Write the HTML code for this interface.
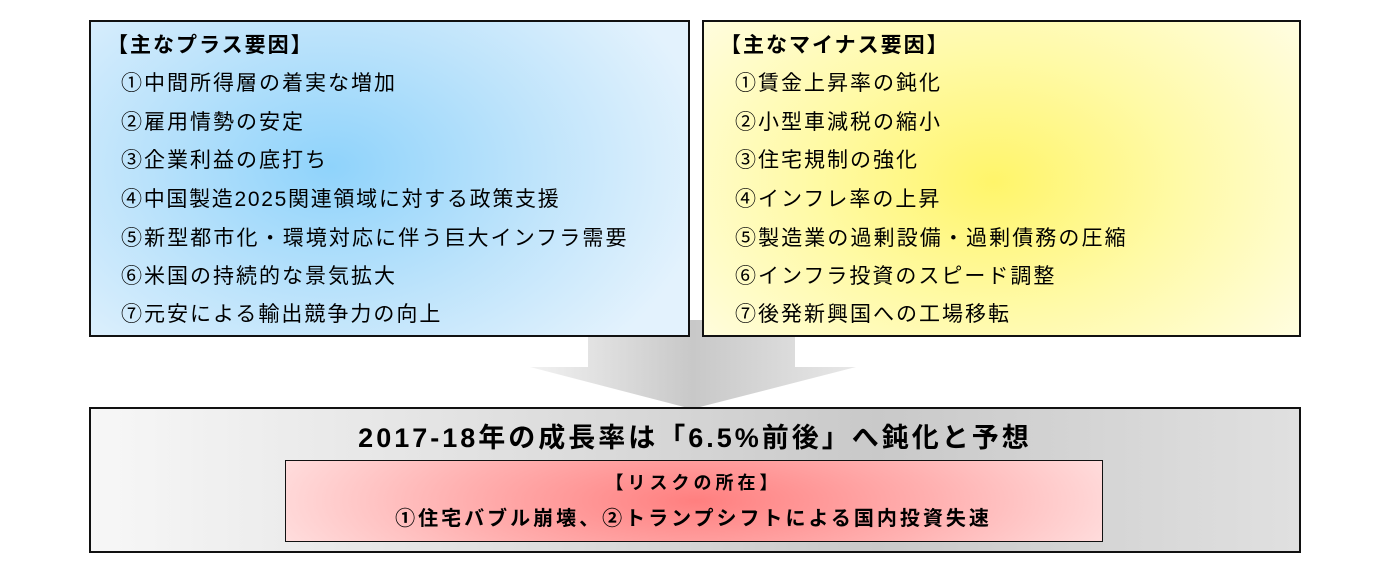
<!DOCTYPE html>
<html><head><meta charset="utf-8"><style>
body{margin:0;width:1399px;height:581px;background:#fff;position:relative;overflow:hidden;font-family:"Liberation Sans","Noto Sans CJK JP",sans-serif;color:#000}
.box{position:absolute;box-sizing:border-box;border:2px solid #111}
.l{left:89px;top:20px;width:601px;height:317px;background:radial-gradient(ellipse 380px 260px at 240px 145px,#8fd3fb 0%,#bfe4fb 55%,#e3f2fd 100%)}
.r{left:702px;top:20px;width:599px;height:317px;background:radial-gradient(ellipse 380px 260px at 290px 160px,#fff56a 0%,#fffaa8 50%,#fffde0 100%)}
.t{position:absolute;font-size:21px;letter-spacing:2px;white-space:nowrap;line-height:24px}
.bot{left:89px;top:407px;width:1212px;height:146px;background:linear-gradient(90deg,#f7f7f7 0%,#dcdcdc 40%,#c9c9c9 65%,#e0e0e0 100%)}
.red{left:285px;top:460px;width:818px;height:82px;border:1.5px solid #111;background:radial-gradient(ellipse 430px 120px at 410px 40px,#ff7f7f 0%,#ffb0b0 55%,#ffdcdc 100%)}
</style></head><body>
<svg style="position:absolute;left:0;top:0" width="1399" height="581">
<defs><linearGradient id="g" x1="0" y1="0" x2="1" y2="0"><stop offset="0" stop-color="#f2f2f2"/><stop offset="0.5" stop-color="#c8c8c8"/><stop offset="1" stop-color="#e8e8e8"/></linearGradient></defs>
<polygon points="588,320 795,320 795,367 856,367 692,409 530,367 588,367" fill="url(#g)"/>
</svg>
<div class="box l">
<div class="t" style="left:16px;top:12px;font-weight:bold">【主なプラス要因】</div>
<div class="t" style="left:30px;top:50px">①中間所得層の着実な増加</div>
<div class="t" style="left:30px;top:89px">②雇用情勢の安定</div>
<div class="t" style="left:30px;top:127px">③企業利益の底打ち</div>
<div class="t" style="left:30px;top:166px;letter-spacing:1.7px">④中国製造2025関連領域に対する政策支援</div>
<div class="t" style="left:30px;top:205px;letter-spacing:2.1px">⑤新型都市化・環境対応に伴う巨大インフラ需要</div>
<div class="t" style="left:30px;top:243px">⑥米国の持続的な景気拡大</div>
<div class="t" style="left:30px;top:281px">⑦元安による輸出競争力の向上</div>
</div>
<div class="box r">
<div class="t" style="left:16px;top:12px;font-weight:bold">【主なマイナス要因】</div>
<div class="t" style="left:31px;top:50px">①賃金上昇率の鈍化</div>
<div class="t" style="left:31px;top:89px">②小型車減税の縮小</div>
<div class="t" style="left:31px;top:127px">③住宅規制の強化</div>
<div class="t" style="left:31px;top:166px">④インフレ率の上昇</div>
<div class="t" style="left:31px;top:205px;letter-spacing:2.1px">⑤製造業の過剰設備・過剰債務の圧縮</div>
<div class="t" style="left:31px;top:243px">⑥インフラ投資のスピード調整</div>
<div class="t" style="left:31px;top:281px">⑦後発新興国への工場移転</div>
</div>
<div class="box bot">
<div class="t" style="left:0;width:1208px;text-align:center;top:14px;font-size:27px;letter-spacing:3px;line-height:30px;font-weight:bold">2017-18年の成長率は「6.5%前後」へ鈍化と予想</div>
</div>
<div class="box red">
<div class="t" style="left:0;width:815px;text-align:center;top:10px;font-size:18px;letter-spacing:4px;font-weight:bold">【リスクの所在】</div>
<div class="t" style="left:0;width:815px;text-align:center;top:46px;font-size:20px;letter-spacing:3px;font-weight:bold">①住宅バブル崩壊、②トランプシフトによる国内投資失速</div>
</div>
</body></html>
